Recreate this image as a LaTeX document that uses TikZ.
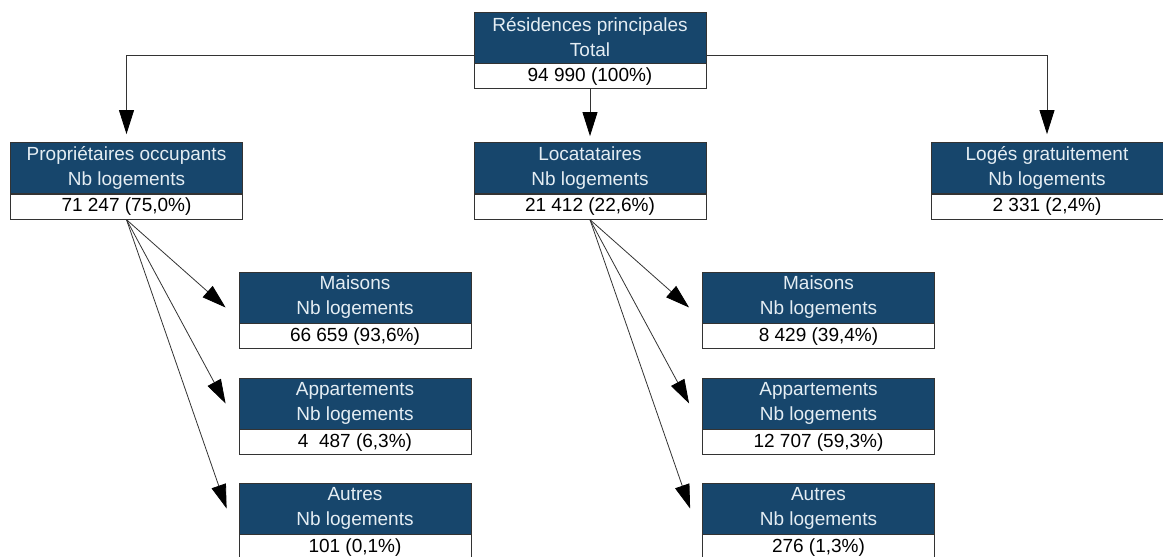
\documentclass[tikz,border=0pt]{standalone}
\usepackage{fontspec}
\setmainfont{Liberation Sans}
\usetikzlibrary{positioning,arrows.meta}
\definecolor{bleu}{HTML}{17466C}
\definecolor{texte}{HTML}{E4EDF3}
\tikzset{
  titre/.style={fill=bleu, draw=black!80, line width=0.8pt, text=texte, minimum width=232pt,
    minimum height=51pt, inner sep=0pt, align=center, font=\fontsize{19}{25}\selectfont},
  valeur/.style={fill=white, draw=black!80, line width=0.8pt, minimum width=232pt,
    minimum height=25pt, inner sep=0pt, font=\fontsize{19}{22}\selectfont},
  fleche/.style={-{Triangle[length=24pt,width=15pt,color=black]}, line width=0.8pt, draw=black!80}
}
\begin{document}
\begin{tikzpicture}[x=1pt,y=-1pt]
                \useasboundingbox (0,0) rectangle (1163,557) ;
                % total
                \node[titre] (tot) at (590,37.5) {Résidences principales\\Total} ;
                \node[valeur, below=0pt of tot] (totv) {94 990 (100\%)} ;
                % niveau 1
                \node[titre] (prop) at (126.5,168) {Propriétaires occupants\\Nb logements} ;
                \node[valeur, below=0pt of prop] (propv) {71 247 (75,0\%)} ;
                \node[titre] (loc) at (590,168) {Locatataires\\Nb logements} ;
                \node[valeur, below=0pt of loc] (locv) {21 412 (22,6\%)} ;
                \node[titre] (log) at (1047,168) {Logés gratuitement\\Nb logements} ;
                \node[valeur, below=0pt of log] (logv) {2 331 (2,4\%)} ;
                % proprietaires
                \node[titre] (pmai) at (355,297.5) {Maisons\\Nb logements} ;
                \node[valeur, below=0pt of pmai] (pmaiv) {66 659 (93,6\%)} ;
                \node[titre] (papp) at (355,403.5) {Appartements\\Nb logements} ;
                \node[valeur, below=0pt of papp] (pappv) {4~~487 (6,3\%)} ;
                \node[titre] (paut) at (355,508.5) {Autres\\Nb logements} ;
                \node[valeur, below=0pt of paut] (pautv) {101 (0,1\%)} ;
                % locataires
                \node[titre] (lmai) at (818.5,297.5) {Maisons\\Nb logements} ;
                \node[valeur, below=0pt of lmai] (lmaiv) {8 429 (39,4\%)} ;
                \node[titre] (lapp) at (818.5,403.5) {Appartements\\Nb logements} ;
                \node[valeur, below=0pt of lapp] (lappv) {12 707 (59,3\%)} ;
                \node[titre] (laut) at (818.5,508.5) {Autres\\Nb logements} ;
                \node[valeur, below=0pt of laut] (lautv) {276 (1,3\%)} ;
                % fleches
                \draw[fleche, shorten >=8pt] ([yshift=-17.5pt]tot.west) -| (prop.north) ;
                \draw[fleche, shorten >=8pt] ([yshift=-17.5pt]tot.east) -| (log.north) ;
                \draw[fleche, shorten >=6pt] (totv.south) -- (loc.north) ;
                \draw[fleche] (propv.south) -- ([xshift=-13pt,yshift=-10pt]pmai.west) ;
                \draw[fleche] (propv.south) -- ([xshift=-13pt]papp.west) ;
                \draw[fleche] (propv.south) -- ([xshift=-12pt]paut.west) ;
                \draw[fleche] (locv.south) -- ([xshift=-13pt,yshift=-10pt]lmai.west) ;
                \draw[fleche] (locv.south) -- ([xshift=-13pt]lapp.west) ;
                \draw[fleche] (locv.south) -- ([xshift=-12pt]laut.west) ;
            \end{tikzpicture}
\end{document}
